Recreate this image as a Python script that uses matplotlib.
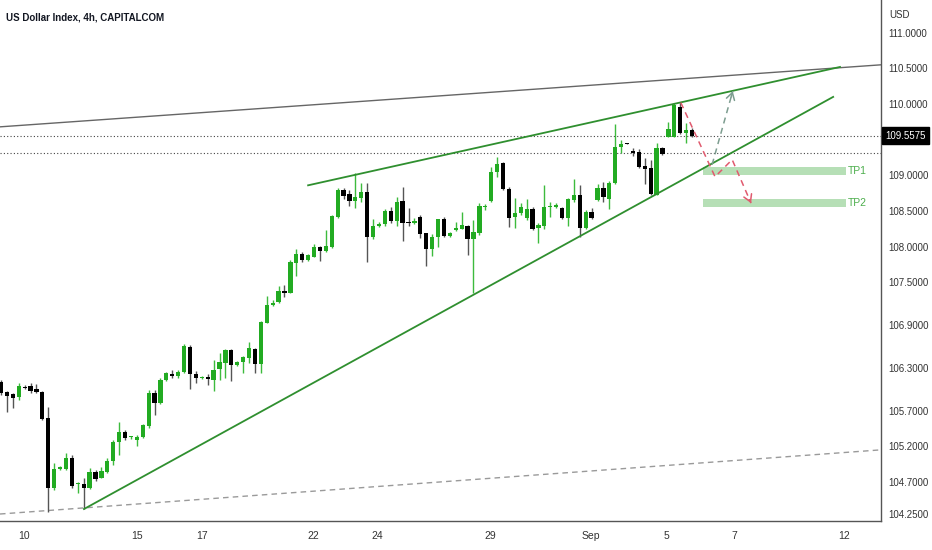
import numpy as np
import matplotlib
matplotlib.use('Agg')
import matplotlib.pyplot as plt
from matplotlib.patches import Rectangle
import matplotlib.transforms as mtransforms

plt.rcParams['font.family'] = ['Liberation Sans', 'DejaVu Sans']

# US Dollar Index, 4h candles (Aug 10 - Sep 6)
opens = [106.10, 105.96, 105.94, 105.89, 106.03, 106.05, 106.00, 105.96, 105.60, 104.62,
         104.88, 104.88, 105.04, 104.67, 104.67, 104.62, 104.84, 104.76, 104.84, 104.99,
         105.26, 105.40, 105.33, 105.29, 105.33, 105.48, 105.95, 105.81, 106.13, 106.21,
         106.19, 106.24, 106.59, 106.21, 106.16, 106.17, 106.13, 106.28, 106.37, 106.55,
         106.34, 106.38, 106.44, 106.56, 106.35, 106.93, 107.18, 107.22, 107.38, 107.35,
         107.77, 107.90, 107.81, 107.85, 107.99, 107.94, 107.99, 108.41, 108.80, 108.74,
         108.64, 108.68, 108.77, 108.14, 108.29, 108.32, 108.50, 108.36, 108.64, 108.35,
         108.33, 108.42, 108.19, 107.97, 108.14, 108.39, 108.15, 108.23, 108.25, 108.29,
         108.11, 108.19, 108.56, 108.64, 109.05, 109.17, 108.81, 108.42, 108.47, 108.40,
         108.53, 108.26, 108.29, 108.56, 108.56, 108.54, 108.40, 108.65, 108.72, 108.26,
         108.49, 108.65, 108.82, 108.67, 108.89, 109.40, 109.45, 109.34, 109.33, 109.13,
         109.10, 108.72, 109.38, 109.54, 109.54, 109.96, 109.59, 109.64]
highs = [106.13, 105.98, 105.95, 106.09, 106.06, 106.09, 106.07, 105.98, 105.75, 104.97,
         104.92, 105.11, 105.08, 104.70, 104.76, 104.90, 104.87, 104.91, 105.04, 105.29,
         105.54, 105.43, 105.35, 105.36, 105.51, 105.99, 105.99, 106.16, 106.24, 106.27,
         106.27, 106.63, 106.62, 106.26, 106.19, 106.21, 106.41, 106.51, 106.56, 106.56,
         106.40, 106.47, 106.66, 106.58, 106.95, 107.31, 107.25, 107.45, 107.46, 107.81,
         107.97, 107.93, 107.90, 108.04, 108.01, 108.23, 108.44, 108.82, 108.82, 108.80,
         109.03, 108.89, 108.89, 108.39, 108.35, 108.53, 108.56, 108.70, 108.84, 108.54,
         108.40, 108.44, 108.19, 108.18, 108.39, 108.42, 108.21, 108.35, 108.49, 108.30,
         108.37, 108.61, 108.60, 109.12, 109.26, 109.19, 108.84, 108.68, 108.61, 108.67,
         108.56, 108.33, 108.86, 108.63, 108.61, 108.56, 108.68, 108.95, 108.86, 108.51,
         108.54, 108.88, 108.91, 108.92, 109.72, 109.50, 109.45, 109.38, 109.37, 109.24,
         109.22, 109.45, 109.40, 109.75, 110.01, 110.03, 109.73, 109.66]
lows = [105.92, 105.68, 105.74, 105.85, 106.00, 105.95, 105.95, 105.57, 104.28, 104.59,
        104.87, 104.87, 104.62, 104.54, 104.32, 104.60, 104.71, 104.75, 104.83, 104.94,
        105.08, 105.29, 105.30, 105.20, 105.32, 105.46, 105.64, 105.79, 106.12, 106.16,
        106.16, 106.23, 106.00, 106.09, 106.14, 106.06, 105.98, 106.13, 106.16, 106.12,
        106.33, 106.23, 106.37, 106.23, 106.23, 106.93, 107.17, 107.21, 107.29, 107.35,
        107.59, 107.79, 107.80, 107.85, 107.80, 107.93, 107.98, 108.40, 108.67, 108.57,
        108.54, 108.63, 107.79, 108.11, 108.28, 108.29, 108.33, 108.29, 108.08, 108.29,
        108.32, 108.12, 107.73, 107.87, 108.00, 108.14, 108.14, 108.22, 108.25, 107.88,
        107.35, 108.16, 108.51, 108.63, 108.98, 108.80, 108.28, 108.26, 108.44, 108.37,
        108.23, 108.05, 108.25, 108.42, 108.54, 108.39, 108.29, 108.63, 108.14, 108.25,
        108.39, 108.64, 108.63, 108.53, 108.88, 109.31, 109.44, 109.27, 109.10, 108.88,
        108.72, 108.72, 109.28, 109.54, 109.54, 109.58, 109.45, 109.54]
closes = [105.95, 105.91, 105.88, 106.05, 106.02, 105.98, 105.96, 105.58, 104.62, 104.88,
          104.91, 105.04, 104.64, 104.69, 104.62, 104.84, 104.74, 104.85, 104.99, 105.26,
          105.40, 105.32, 105.34, 105.33, 105.50, 105.95, 105.81, 106.13, 106.23, 106.19,
          106.24, 106.61, 106.21, 106.16, 106.17, 106.14, 106.27, 106.38, 106.55, 106.34,
          106.38, 106.45, 106.58, 106.35, 106.94, 107.18, 107.21, 107.38, 107.35, 107.79,
          107.90, 107.81, 107.88, 107.99, 107.94, 108.01, 108.43, 108.80, 108.71, 108.64,
          108.70, 108.77, 108.14, 108.29, 108.32, 108.50, 108.36, 108.63, 108.33, 108.33,
          108.36, 108.18, 107.97, 108.14, 108.39, 108.15, 108.19, 108.26, 108.30, 108.11,
          108.21, 108.57, 108.57, 109.05, 109.16, 108.81, 108.40, 108.47, 108.56, 108.53,
          108.25, 108.30, 108.56, 108.57, 108.58, 108.40, 108.67, 108.72, 108.26, 108.49,
          108.40, 108.82, 108.69, 108.89, 109.40, 109.44, 109.44, 109.31, 109.12, 109.09,
          108.74, 109.38, 109.30, 109.65, 109.99, 109.59, 109.64, 109.5575]

last_price = 109.5575
prev_level = 109.31

date_labels = ['10', '15', '17', '22', '24', '29', 'Sep', '5', '7', '12']
date_bars = [3.9, 23.0, 34.0, 52.8, 63.7, 82.8, 99.9, 112.6, 124.1, 142.8]
price_ticks = [104.25, 104.7, 105.2, 105.7, 106.3, 106.9, 107.5, 108.0, 108.5, 109.0, 110.0, 110.5, 111.0]

# drawings (bar index, price)
top_gray = [(-0.17, 109.68), (149.0, 110.55)]
bottom_dash = [(-0.17, 104.25), (149.0, 105.15)]
wedge_low = [(14.05, 104.32), (140.9, 110.10)]
wedge_high = [(52.0, 108.86), (142.06, 110.52)]
red_path = [(115.1, 110.02), (120.9, 108.98), (123.8, 109.22), (127.0, 108.61)]
alt_path = [(120.4, 109.15), (123.9, 110.18)]
tp_zones = {'TP1': (109.005, 109.117), 'TP2': (108.556, 108.668)}
tp_span = (118.9, 143.1)

GREEN = '#22ab22'
LINE_GREEN = '#2f8f2f'

fig = plt.figure(figsize=(9.32, 5.5), dpi=100)
ax = fig.add_axes([0, 1 - 521 / 550, 881 / 932, 521 / 550])
ax.set_xlim(-0.17, 149.0)
ax.set_ylim(104.152, 111.459)

o = np.array(opens); h = np.array(highs); l = np.array(lows); c = np.array(closes)
idx = np.arange(len(o))
up = c >= o
body_col = np.where(up, GREEN, '#000000')
wick_col = np.where(up, '#3dbb3d', '#555555')

ax.vlines(idx, l, h, colors=wick_col, linewidth=1, zorder=3)
bottoms = np.minimum(o, c)
heights = np.maximum(np.abs(c - o), 0.012)
ax.bar(idx, heights, bottom=bottoms, width=0.72, color=body_col, linewidth=0, zorder=4)

# level lines
ax.axhline(last_price, color='#444444', lw=0.8, ls=(0, (1, 2)), zorder=2)
ax.axhline(prev_level, color='#444444', lw=0.8, ls=(0, (1, 2)), zorder=2)

# trend lines
ax.axline(top_gray[0], top_gray[1], color='#666666', lw=1.0, zorder=2)
ax.axline(bottom_dash[0], bottom_dash[1], color='#9a9a9a', lw=1.0, ls=(0, (4, 3)), zorder=2)
for seg in (wedge_low, wedge_high):
    xs, ys = zip(*seg)
    ax.plot(xs, ys, color=LINE_GREEN, lw=1.3, zorder=5)

# target zones
for name, (lo, hi) in tp_zones.items():
    ax.add_patch(Rectangle((tp_span[0], lo), tp_span[1] - tp_span[0], hi - lo,
                           facecolor='#b6dfb6', edgecolor='none', zorder=1))
    ax.text(tp_span[1] + 0.3, (lo + hi) / 2, name, color='#4cae4c', fontsize=7.5,
            va='center', ha='left', zorder=6)

# projected paths
def dashed_arrow(path, color):
    xs, ys = zip(*path)
    ax.plot(xs, ys, color=color, lw=1.1, ls=(0, (4, 3)), zorder=6)
    (x0, y0), (x1, y1) = path[-2], path[-1]
    ax.annotate('', xy=(x1, y1), xytext=(x1 - 0.08 * (x1 - x0), y1 - 0.08 * (y1 - y0)),
                arrowprops=dict(arrowstyle='->,head_length=0.5,head_width=0.3',
                                color=color, lw=1.1, shrinkA=0, shrinkB=0), zorder=6)

dashed_arrow(red_path, '#e05a6e')
dashed_arrow(alt_path, '#7d9d90')

# axes styling
for s in ('left', 'top'):
    ax.spines[s].set_visible(False)
for s in ('right', 'bottom'):
    ax.spines[s].set_color('#555555')
    ax.spines[s].set_linewidth(1)
ax.yaxis.tick_right()
ax.set_yticks(price_ticks)
ax.set_yticklabels([f'{v:.4f}' for v in price_ticks])
ax.tick_params(axis='y', length=0, pad=5, labelsize=7, labelcolor='#333333')
ax.set_xticks(date_bars)
ax.set_xticklabels(date_labels)
ax.tick_params(axis='x', length=0, pad=7, labelsize=7.5, labelcolor='#333333')

trans = mtransforms.blended_transform_factory(ax.transAxes, ax.transData)
ax.text(1.005, last_price, f'{last_price:.4f}', transform=trans, color='white', fontsize=7,
        va='center', ha='left', zorder=10, clip_on=False,
        bbox=dict(boxstyle='square,pad=0.35', facecolor='black', edgecolor='black'))

fig.text(889 / 932, 1 - 15 / 550, 'USD', fontsize=7, color='#333333', va='center')
fig.text(6 / 932, 1 - 17 / 550, 'US Dollar Index, 4h, CAPITALCOM', fontsize=7,
         fontweight='bold', color='#131722', va='center')

fig.savefig('out.png', dpi=100)
